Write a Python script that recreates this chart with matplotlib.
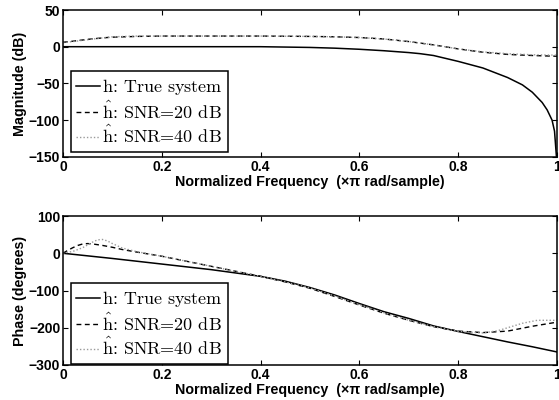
import matplotlib
matplotlib.use("Agg")
import matplotlib.pyplot as plt

# ---------------- data ----------------
mag_true_f = [0, 0.1, 0.2, 0.3, 0.4, 0.45, 0.5, 0.55, 0.6, 0.65, 0.7, 0.723, 0.75,
              0.8, 0.85, 0.9, 0.93, 0.95, 0.97, 0.98, 0.99, 0.995, 1.0]
mag_true = [0, 0, 0, 0, 0, -0.5, -1, -2, -3.5, -5.5, -8, -9.5, -12,
            -20, -29, -42, -52, -62, -76, -86, -100, -115, -160]

mag_20_f = [0, 0.02, 0.05, 0.08, 0.1, 0.15, 0.2, 0.3, 0.4, 0.5, 0.55, 0.6, 0.65,
            0.7, 0.75, 0.8, 0.85, 0.9, 0.95, 1.0]
mag_20 = [6, 7.5, 10, 12, 13, 14, 14.5, 14.5, 14.5, 14, 13.5, 12.5, 10.5,
          7, 2.5, -3, -7.5, -10.5, -12, -13]

mag_40_f = [0, 0.02, 0.05, 0.08, 0.1, 0.15, 0.2, 0.3, 0.4, 0.5, 0.55, 0.6, 0.65,
            0.7, 0.75, 0.8, 0.85, 0.9, 0.95, 1.0]
mag_40 = [5.5, 7, 9.5, 12, 13.5, 14.5, 14.5, 14.5, 14.5, 14, 13.5, 12.5, 10.5,
          7, 2.5, -3, -7, -9.5, -11, -11.5]

ph_true_f = [0, 0.1, 0.2, 0.3, 0.4, 0.45, 0.5, 0.55, 0.6, 0.65, 0.7, 0.75, 0.8,
             0.85, 0.9, 0.95, 1.0]
ph_true = [0, -14, -29, -44, -62, -75, -92, -112, -135, -157, -175, -195, -210,
           -224, -238, -251, -265]

ph_20_f = [0, 0.01, 0.02, 0.03, 0.04, 0.05, 0.06, 0.08, 0.1, 0.12, 0.15, 0.2, 0.3,
           0.4, 0.45, 0.5, 0.55, 0.6, 0.65, 0.7, 0.75, 0.8, 0.85, 0.9, 0.95, 1.0]
ph_20 = [0, 8, 15, 21, 25, 26, 25, 21, 16, 10, 3, -8, -35,
         -62, -77, -94, -116, -139, -161, -180, -197, -209, -213, -209, -196, -185]

ph_40_f = [0, 0.02, 0.04, 0.06, 0.07, 0.08, 0.09, 0.1, 0.12, 0.15, 0.2, 0.3, 0.4,
           0.45, 0.5, 0.55, 0.6, 0.65, 0.7, 0.75, 0.8, 0.85, 0.88, 0.9, 0.93, 0.96, 1.0]
ph_40 = [0, 5, 15, 30, 36, 37, 33, 26, 14, 4, -8, -35, -62,
         -77, -93, -115, -138, -160, -180, -197, -210, -214, -208, -200, -188, -180, -180]

x_ticks = [0, 0.2, 0.4, 0.6, 0.8, 1]
x_ticklabels = ["0", "0.2", "0.4", "0.6", "0.8", "1"]
mag_ticks = [-150, -100, -50, 0, 50]
ph_ticks = [-300, -200, -100, 0, 100]

labels = [r"$\mathrm{h}$: True system",
          r"$\hat{\mathrm{h}}$: SNR=20 dB",
          r"$\hat{\mathrm{h}}$: SNR=40 dB"]
xlabel = "Normalized Frequency  (\u00d7\u03c0 rad/sample)"

# ---------------- style ----------------
plt.rcParams["font.family"] = ["Liberation Sans", "DejaVu Sans"]
plt.rcParams["font.weight"] = "bold"
plt.rcParams["mathtext.fontset"] = "cm"
plt.rcParams["axes.linewidth"] = 1.1

fig = plt.figure(figsize=(5.59, 4.0), dpi=100)
ax1 = fig.add_axes([0.1127, 0.608, 0.8837, 0.367])
ax2 = fig.add_axes([0.1127, 0.0875, 0.8837, 0.3725])

dot_color = "#9a9a9a"

def style(ax, yticks, ylim, ylabel):
    ax.set_xlim(0, 1)
    ax.set_ylim(*ylim)
    ax.set_xticks(x_ticks)
    ax.set_xticklabels(x_ticklabels)
    ax.set_yticks(yticks)
    ax.tick_params(direction="in", length=3.6, width=0.8, top=True, right=True,
                   labelsize=10, pad=2)
    for lab in ax.get_xticklabels() + ax.get_yticklabels():
        lab.set_fontweight("bold")
    ax.set_xlabel(xlabel, fontsize=10.3, fontweight="bold", labelpad=1.2)
    ax.set_ylabel(ylabel, fontsize=10.3, fontweight="bold")
    ax.yaxis.set_label_coords(-0.072, 0.5)

l1, = ax1.plot(mag_true_f, mag_true, color="black", lw=1.1, ls="-")
l2, = ax1.plot(mag_20_f, mag_20, color="black", lw=1.0, ls=(0, (3.5, 2.5)))
l3, = ax1.plot(mag_40_f, mag_40, color=dot_color, lw=1.0, ls=(0, (1, 1.5)))
style(ax1, mag_ticks, (-150, 50), "Magnitude (dB)")

m1, = ax2.plot(ph_true_f, ph_true, color="black", lw=1.1, ls="-")
m2, = ax2.plot(ph_20_f, ph_20, color="black", lw=1.0, ls=(0, (3.5, 2.5)))
m3, = ax2.plot(ph_40_f, ph_40, color=dot_color, lw=1.0, ls=(0, (1, 1.5)))
style(ax2, ph_ticks, (-300, 100), "Phase (degrees)")

for ax, hs, yb in ((ax1, (l1, l2, l3), 0.034), (ax2, (m1, m2, m3), 0.008)):
    leg = ax.legend(hs, labels, loc="lower left", bbox_to_anchor=(0.016, yb),
                    borderaxespad=0, fancybox=False, framealpha=1,
                    edgecolor="black",
                    prop={"family": "cmr10", "size": 13, "weight": "normal"},
                    handlelength=1.3, handletextpad=0.1, labelspacing=0.15,
                    borderpad=0.3)
    leg.get_frame().set_linewidth(1.1)

fig.savefig("out.png", dpi=100)
